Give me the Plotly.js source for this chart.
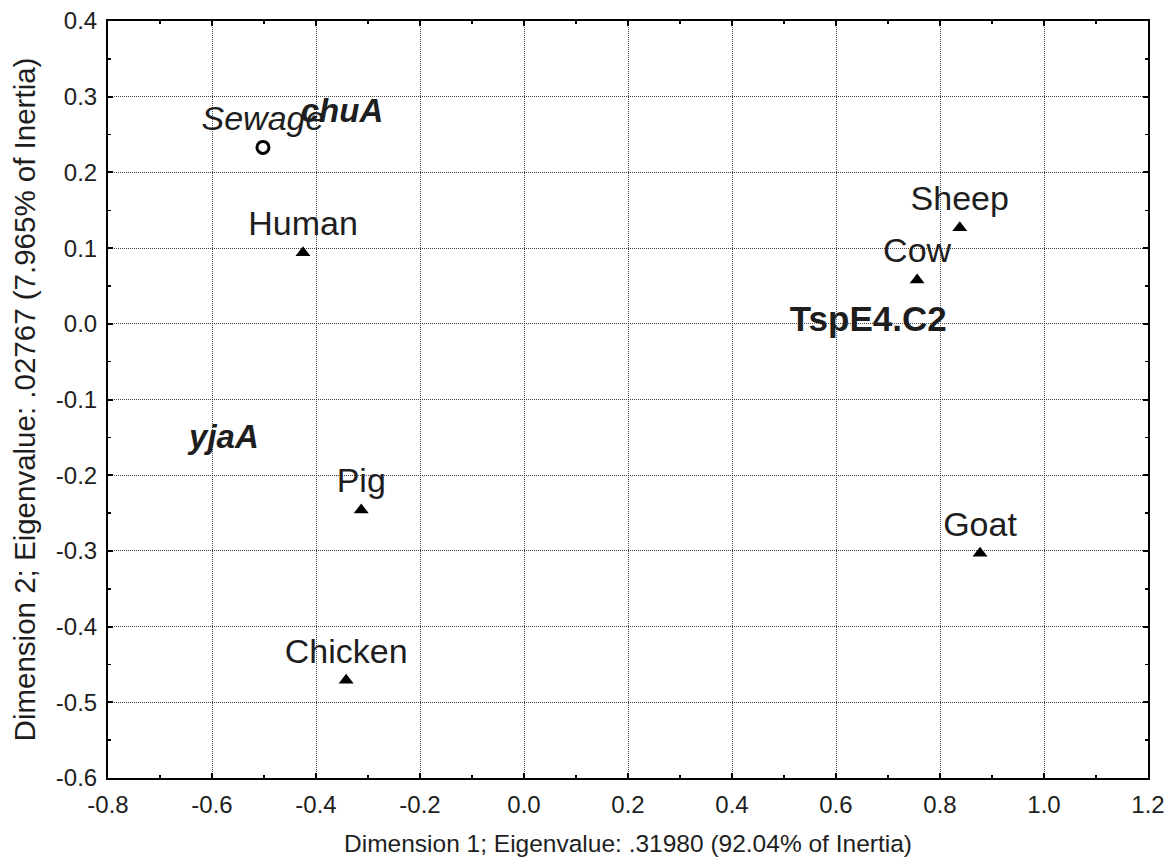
<!DOCTYPE html>
<html>
<head>
<meta charset="utf-8">
<script src="https://cdn.plot.ly/plotly-3.0.1.min.js"></script>
<style>
html,body{margin:0;padding:0;background:#fff;}
#chart{width:1168px;height:859px;}
</style>
</head>
<body>
<div id="chart"></div>
<script>
// Row points (sources) - triangles
const sourceNames = ["Human", "Pig", "Chicken", "Sheep", "Cow", "Goat"];
const sourceX = [-0.425, -0.313, -0.342, 0.838, 0.756, 0.877];
const sourceY = [0.094, -0.246, -0.471, 0.127, 0.058, -0.303];

// Supplementary point - open circle
const suppNames = ["Sewage"];
const suppX = [-0.502];
const suppY = [0.233];

// Column points (genes) - text labels only
const geneNames = ["chuA", "yjaA", "TspE4.C2"];
const geneX = [-0.35, -0.577, 0.662];
const geneY = [0.278, -0.153, 0.002];

// Tick labels
const xTickVals = [-0.8, -0.6, -0.4, -0.2, 0.0, 0.2, 0.4, 0.6, 0.8, 1.0, 1.2];
const xTickText = ["-0.8", "-0.6", "-0.4", "-0.2", "0.0", "0.2", "0.4", "0.6", "0.8", "1.0", "1.2"];
const yTickVals = [-0.6, -0.5, -0.4, -0.3, -0.2, -0.1, 0.0, 0.1, 0.2, 0.3, 0.4];
const yTickText = ["-0.6", "-0.5", "-0.4", "-0.3", "-0.2", "-0.1", "0.0", "0.1", "0.2", "0.3", "0.4"];

const FONT = "Liberation Sans, Arial, Helvetica, sans-serif";
const INK = "#1e1e1e";

const traces = [
  {
    x: sourceX, y: sourceY, text: sourceNames,
    mode: "markers+text", type: "scatter",
    textposition: "top center",
    marker: {symbol: "triangle-up", size: 13, color: "#000"},
    textfont: {family: FONT, size: 34, color: INK},
    hoverinfo: "text"
  },
  {
    x: suppX, y: suppY, text: suppNames,
    mode: "markers+text", type: "scatter",
    textposition: "top center",
    marker: {symbol: "circle-open", size: 12, color: "#000", line: {width: 3, color: "#000"}},
    textfont: {family: FONT, size: 34, color: INK},
    texttemplate: "<i>%{text}</i>",
    hoverinfo: "text"
  },
  {
    x: geneX, y: geneY, text: geneNames,
    mode: "text", type: "scatter",
    textposition: "middle center",
    texttemplate: ["<b><i>%{text}</i></b>", "<b><i>%{text}</i></b>", "<b>%{text}</b>"],
    textfont: {family: FONT, size: [33, 33, 35], color: INK},
    hoverinfo: "text"
  }
];

const axisCommon = {
  showline: true, linewidth: 2, linecolor: "#000", mirror: "allticks",
  ticks: "inside", ticklen: 5, tickwidth: 2, tickcolor: "#000",
  showgrid: true, gridcolor: "#444", gridwidth: 1, griddash: "1px,1px",
  zeroline: false, automargin: false,
  tickfont: {family: FONT, size: 24, color: INK}
};

const layout = {
  width: 1168, height: 859,
  margin: {l: 108, r: 20, t: 21, b: 81},
  paper_bgcolor: "#fff", plot_bgcolor: "#fff",
  showlegend: false,
  xaxis: Object.assign({}, axisCommon, {
    range: [-0.8, 1.2],
    tickmode: "array", tickvals: xTickVals, ticktext: xTickText,
    ticklabelstandoff: 4,
    minor: {dtick: 0.1, tick0: -0.8, ticks: "inside", ticklen: 3, tickcolor: "#000", tickwidth: 1.5, showgrid: false},
    title: {text: "Dimension 1; Eigenvalue: .31980 (92.04% of Inertia)", font: {family: FONT, size: 24.5, color: INK}, standoff: 18}
  }),
  yaxis: Object.assign({}, axisCommon, {
    range: [-0.6, 0.4],
    tickmode: "array", tickvals: yTickVals, ticktext: yTickText,
    ticklabelstandoff: 4,
    minor: {dtick: 0.05, tick0: -0.6, ticks: "inside", ticklen: 3, tickcolor: "#000", tickwidth: 1.5, showgrid: false},
    title: {text: "Dimension 2; Eigenvalue: .02767 (7.965% of Inertia)", font: {family: FONT, size: 29.5, color: INK}, standoff: 12}
  })
};

Plotly.newPlot("chart", traces, layout, {displayModeBar: false, staticPlot: true});
</script>
</body>
</html>
